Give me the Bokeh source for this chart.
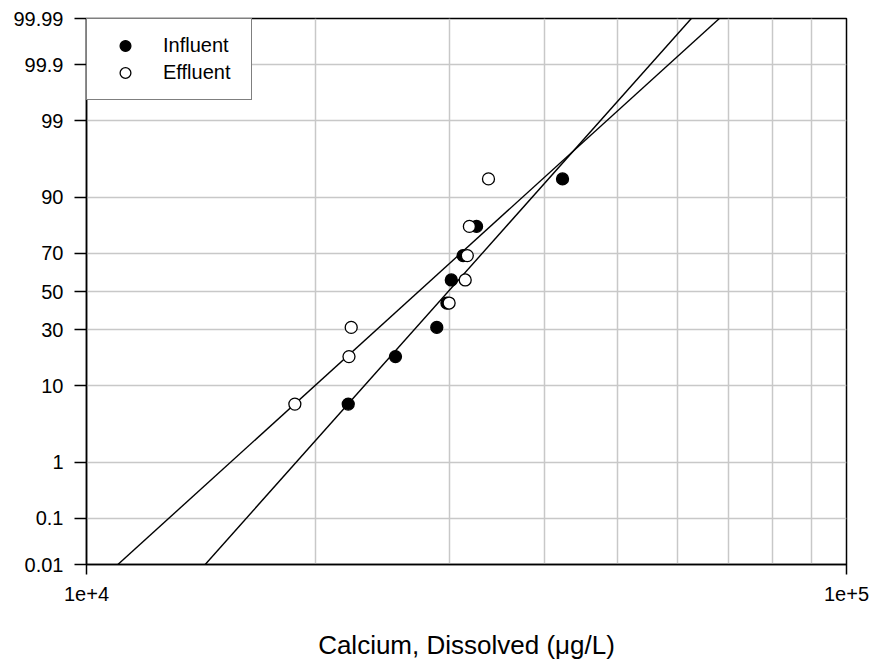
from statistics import NormalDist
from bokeh.plotting import figure
from bokeh.models import (Range1d, FixedTicker, CustomJSTickFormatter, Legend,
                          LegendItem, ColumnDataSource)
from bokeh.embed import file_html
from bokeh.resources import INLINE

# ---- data ----
plot_pos = [6.25, 18.75, 31.25, 43.75, 56.25, 68.75, 81.25, 93.75]   # percent
influent = [22100, 25500, 28900, 29800, 30200, 31300, 32600, 42300]
effluent = [18800, 22150, 22300, 30000, 31500, 31700, 31900, 33800]
# lognormal fit lines: mean and sd of log10(concentration)
influent_fit = dict(mean_log=4.476, sd_log=0.0860)
effluent_fit = dict(mean_log=4.437, sd_log=0.1064)

prob_ticks = [0.01, 0.1, 1, 10, 30, 50, 70, 90, 99, 99.9, 99.99]
prob_labels = ["0.01", "0.1", "1", "10", "30", "50", "70", "90", "99", "99.9", "99.99"]
x_major = [1e4, 1e5]
x_minor = [2e4, 3e4, 4e4, 5e4, 6e4, 7e4, 8e4, 9e4]
x_label = "Calcium, Dissolved (\u03bcg/L)"

nd = NormalDist()
def z(p):
    return nd.inv_cdf(p / 100.0)

zt = [z(p) for p in prob_ticks]
zlo, zhi = zt[0], zt[-1]
FONT = "Liberation Sans"
GRID = "#c8c8c8"

p = figure(x_axis_type="log", x_range=Range1d(1e4, 1e5), y_range=Range1d(zlo, zhi),
           frame_width=760, frame_height=546, min_border_left=86, min_border_top=18,
           min_border_right=23, min_border_bottom=90,
           output_backend="svg", toolbar_location=None)
p.background_fill_color = "white"
p.border_fill_color = "white"
p.outline_line_color = "black"
p.outline_line_width = 1.5

# grids
p.xgrid.ticker = FixedTicker(ticks=x_major, minor_ticks=x_minor)
p.xgrid.grid_line_color = GRID
p.xgrid.grid_line_width = 1.5
p.xgrid.minor_grid_line_color = GRID
p.xgrid.minor_grid_line_width = 1.5
p.ygrid.ticker = FixedTicker(ticks=zt)
p.ygrid.grid_line_color = GRID
p.ygrid.grid_line_width = 1.5

# axes
xa = p.xaxis[0]
xa.ticker = FixedTicker(ticks=x_major)
xa.formatter = CustomJSTickFormatter(code="return '1e+' + Math.round(Math.log10(tick));")
xa.axis_label = x_label
ya = p.yaxis[0]
ya.ticker = FixedTicker(ticks=zt)
ya.formatter = CustomJSTickFormatter(args=dict(zvals=zt, labs=prob_labels), code="""
let best = 0, d = 1e9;
for (let i = 0; i < zvals.length; i++) {
  const e = Math.abs(zvals[i] - tick);
  if (e < d) { d = e; best = i; }
}
return labs[best];
""")
for ax in (xa, ya):
    ax.axis_line_color = "black"
    ax.axis_line_width = 1.5
    ax.major_tick_line_color = "black"
    ax.major_tick_line_width = 1.5
    ax.major_tick_in = 0
    ax.minor_tick_line_color = None
    ax.major_label_text_font = FONT
    ax.major_label_text_font_size = "20px"
    ax.major_label_text_color = "black"
    ax.axis_label_text_font = FONT
    ax.axis_label_text_font_size = "26px"
    ax.axis_label_text_font_style = "normal"
    ax.axis_label_text_color = "black"
xa.major_tick_out = 10
xa.major_label_standoff = 12
xa.axis_label_standoff = 26
ya.major_tick_out = 12
ya.major_label_standoff = 11

# fit lines
for fit in (influent_fit, effluent_fit):
    xs = [10 ** (fit["mean_log"] + fit["sd_log"] * zz) for zz in (zlo, zhi)]
    p.line(xs, [zlo, zhi], line_color="black", line_width=1.4)

src_in = ColumnDataSource(dict(x=influent, y=[z(v) for v in plot_pos]))
src_ef = ColumnDataSource(dict(x=effluent, y=[z(v) for v in plot_pos]))
r_in = p.scatter("x", "y", source=src_in, size=12, marker="circle",
                 fill_color="black", line_color="black", line_width=1.3)
r_ef = p.scatter("x", "y", source=src_ef, size=12, marker="circle",
                 fill_color="white", line_color="black", line_width=1.3)

legend = Legend(items=[LegendItem(label="Influent", renderers=[r_in]),
                       LegendItem(label="Effluent", renderers=[r_ef])],
                location="top_left", margin=0, padding=13, spacing=0,
                glyph_width=50, glyph_height=27, label_height=27, label_width=75,
                label_standoff=13, label_text_font=FONT, label_text_font_size="20px",
                label_text_color="black",
                border_line_color="black", border_line_width=1.5,
                background_fill_color="white", background_fill_alpha=1.0)
p.add_layout(legend)

open("out.html", "w").write(file_html(p, INLINE))
